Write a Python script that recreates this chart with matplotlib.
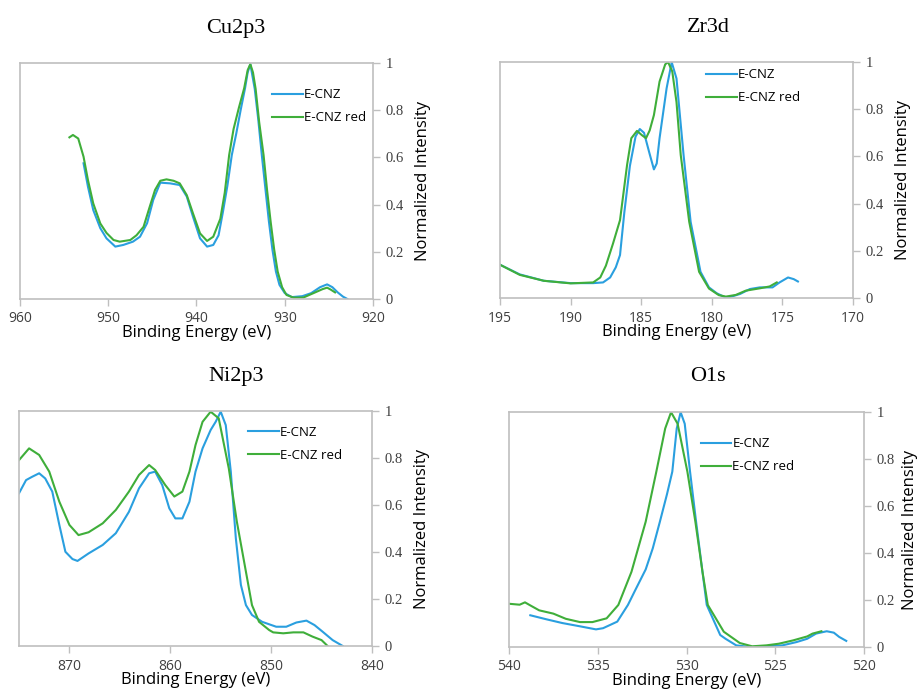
import matplotlib
matplotlib.use('Agg')
import matplotlib.pyplot as plt

# Cu2p3 (binding energy eV, normalized intensity)
cu_blue_x = [952.8, 952.3, 951.7, 950.9, 950.2, 949.2, 948.3, 947.2, 946.4, 945.6, 944.9, 944.1,
             943.0, 941.9, 941.1, 940.4, 939.6, 938.8, 938.1, 937.5, 937.0, 936.5, 936.0, 935.5,
             935.0, 934.5, 934.2, 933.9, 933.4, 933.0, 932.6, 932.2, 931.8, 931.4, 931.0, 930.6,
             930.0, 929.2, 928.0, 927.0, 926.0, 925.2, 924.6, 924.0, 923.4, 922.9]
cu_blue_y = [0.575, 0.476, 0.377, 0.30, 0.257, 0.222, 0.229, 0.243, 0.264, 0.321, 0.42, 0.493,
             0.49, 0.483, 0.434, 0.349, 0.257, 0.222, 0.229, 0.27, 0.37, 0.48, 0.61, 0.70,
             0.80, 0.893, 0.96, 0.995, 0.89, 0.76, 0.61, 0.47, 0.33, 0.21, 0.116, 0.06,
             0.025, 0.008, 0.012, 0.025, 0.05, 0.062, 0.05, 0.028, 0.01, 0.0]
cu_green_x = [954.4, 954.0, 953.4, 952.8, 952.3, 951.7, 950.9, 950.2, 949.4, 948.7, 947.5, 946.8,
              946.0, 945.3, 944.7, 944.1, 943.4, 942.6, 941.9, 941.1, 940.4, 939.6, 938.8, 938.1,
              937.3, 936.8, 936.3, 935.8, 935.2, 934.6, 934.2, 933.9, 933.6, 933.3, 932.9, 932.4,
              932.0, 931.6, 931.2, 930.8, 930.3, 929.8, 929.0, 927.9, 926.8, 925.7, 925.2, 924.8,
              924.3]
cu_green_y = [0.685, 0.695, 0.68, 0.603, 0.504, 0.405, 0.32, 0.28, 0.25, 0.243, 0.25, 0.27,
              0.306, 0.391, 0.462, 0.501, 0.507, 0.501, 0.49, 0.44, 0.363, 0.278, 0.246, 0.264,
              0.34, 0.45, 0.61, 0.72, 0.81, 0.893, 0.97, 0.995, 0.96, 0.89, 0.75, 0.61,
              0.46, 0.328, 0.21, 0.116, 0.05, 0.017, 0.006, 0.006, 0.024, 0.042, 0.048, 0.04,
              0.028]

# Zr3d
zr_blue_x = [195.0, 193.6, 191.9, 190.0, 188.4, 187.7, 187.2, 186.8, 186.5, 186.2, 185.8, 185.4,
             185.1, 184.8, 184.4, 184.1, 183.9, 183.7, 183.2, 182.84, 182.5, 182.0, 181.5, 180.8,
             180.2, 179.65, 178.95, 178.0, 177.3, 176.6, 175.7, 175.2, 174.6, 174.2, 173.9]
zr_blue_y = [0.141, 0.10, 0.073, 0.063, 0.063, 0.066, 0.087, 0.13, 0.182, 0.36, 0.56, 0.684,
             0.716, 0.70, 0.61, 0.545, 0.57, 0.677, 0.889, 0.999, 0.93, 0.606, 0.323, 0.111,
             0.045, 0.02, 0.0, 0.017, 0.038, 0.045, 0.045, 0.066, 0.087, 0.08, 0.07]
zr_green_x = [195.0, 193.6, 191.9, 190.0, 188.4, 187.9, 187.5, 187.0, 186.5, 186.0, 185.7, 185.3,
              184.95, 184.66, 184.4, 184.1, 183.7, 183.3, 183.1, 182.8, 182.5, 182.2, 181.6, 180.9,
              180.2, 179.5, 179.0, 178.3, 177.6, 176.6, 175.9, 175.4]
zr_green_y = [0.141, 0.098, 0.073, 0.062, 0.066, 0.087, 0.137, 0.23, 0.33, 0.564, 0.677, 0.708,
              0.69, 0.677, 0.71, 0.775, 0.917, 0.99, 1.0, 0.96, 0.83, 0.606, 0.323, 0.111,
              0.04, 0.012, 0.006, 0.013, 0.031, 0.041, 0.049, 0.066]

# Ni2p3
ni_blue_x = [875.0, 874.3, 873.7, 873.0, 872.4, 871.7, 871.0, 870.4, 869.7, 869.2, 868.1, 866.7,
             865.4, 864.1, 863.1, 862.1, 861.5, 860.8, 860.1, 859.5, 858.8, 858.1, 857.5, 856.8,
             856.0, 855.5, 855.0, 854.5, 854.0, 853.5, 853.0, 852.5, 851.9, 850.9, 849.5, 848.5,
             847.5, 846.5, 845.7, 844.9, 843.9, 842.9]
ni_blue_y = [0.65, 0.706, 0.72, 0.735, 0.713, 0.657, 0.515, 0.401, 0.37, 0.362, 0.394, 0.43,
             0.48, 0.571, 0.671, 0.735, 0.742, 0.685, 0.586, 0.543, 0.543, 0.614, 0.742, 0.841,
             0.919, 0.954, 0.997, 0.94, 0.742, 0.458, 0.26, 0.174, 0.132, 0.103, 0.082, 0.082,
             0.10, 0.108, 0.089, 0.061, 0.025, 0.0]
ni_green_x = [875.0, 874.0, 873.0, 872.0, 871.0, 870.0, 869.1, 868.1, 866.7, 865.4, 864.1, 863.1,
              862.1, 861.5, 860.5, 859.6, 858.8, 858.1, 857.5, 856.8, 856.0, 855.2, 854.2, 853.4,
              852.5, 851.9, 851.2, 850.2, 849.8, 848.8, 847.8, 846.8, 845.9, 845.0, 844.4]
ni_green_y = [0.791, 0.841, 0.813, 0.742, 0.614, 0.515, 0.472, 0.484, 0.522, 0.579, 0.657, 0.728,
              0.77, 0.749, 0.685, 0.636, 0.657, 0.742, 0.855, 0.954, 0.997, 0.969, 0.756, 0.529,
              0.316, 0.174, 0.103, 0.068, 0.058, 0.054, 0.058, 0.058, 0.04, 0.025, 0.0]

# O1s
o_blue_x = [538.8, 537.9, 537.0, 536.0, 535.1, 534.7, 533.9, 533.3, 532.9, 532.3, 531.9, 531.5,
            531.1, 530.8, 530.55, 530.33, 530.1, 529.8, 529.46, 529.1, 528.86, 528.1, 527.8, 527.2,
            526.4, 525.5, 524.6, 523.8, 523.2, 522.7, 522.1, 521.7, 521.4, 521.0]
o_blue_y = [0.135, 0.118, 0.102, 0.088, 0.075, 0.08, 0.108, 0.179, 0.24, 0.33, 0.42, 0.533,
            0.65, 0.746, 0.93, 0.999, 0.95, 0.746, 0.533, 0.32, 0.179, 0.051, 0.035, 0.007,
            0.0, 0.003, 0.007, 0.021, 0.035, 0.057, 0.067, 0.061, 0.043, 0.026]
o_green_x = [540.0, 539.4, 539.1, 538.8, 538.3, 537.5, 536.8, 536.0, 535.3, 534.5, 533.84, 533.1,
             532.3, 531.7, 531.2, 530.87, 530.5, 529.95, 529.5, 529.1, 528.8, 527.9, 527.0, 526.3,
             525.5, 524.8, 524.0, 523.2, 522.9, 522.4]
o_green_y = [0.184, 0.18, 0.19, 0.177, 0.156, 0.142, 0.12, 0.106, 0.106, 0.122, 0.179, 0.32,
             0.533, 0.746, 0.93, 0.999, 0.95, 0.746, 0.533, 0.32, 0.179, 0.065, 0.017, 0.003,
             0.007, 0.014, 0.028, 0.045, 0.057, 0.067]

BLUE = '#2a9fdf'
GREEN = '#3fae3a'
FRAME = '#bfbfbf'
SANS = 'Open Sans'
SERIF = 'Liberation Serif'

panels = [
    # title, blue, green, xlim, xticks, axes rect, title pos, legend anchor, ylabel pad
    ('Cu2p3', (cu_blue_x, cu_blue_y), (cu_green_x, cu_green_y), (960, 920), [960, 950, 940, 930, 920],
     [20/917, 1 - 299/691, 353/917, 236/691], (236/917, 1 - 28/691), (0.70, 0.915), 8),
    ('Zr3d', (zr_blue_x, zr_blue_y), (zr_green_x, zr_green_y), (195, 170), [195, 190, 185, 180, 175, 170],
     [500/917, 1 - 298/691, 353/917, 236/691], (708/917, 1 - 28/691), (0.57, 0.995), 8),
    ('Ni2p3', (ni_blue_x, ni_blue_y), (ni_green_x, ni_green_y), (875, 840), [870, 860, 850, 840],
     [19/917, 1 - 646/691, 353/917, 235/691], (236/917, 1 - 377/691), (0.635, 0.96), 8),
    ('O1s', (o_blue_x, o_blue_y), (o_green_x, o_green_y), (540, 520), [540, 535, 530, 525, 520],
     [509/917, 1 - 647/691, 355/917, 235/691], (708/917, 1 - 377/691), (0.525, 0.915), 5),
]

fig = plt.figure(figsize=(9.17, 6.91), dpi=100)

for title, blue, green, xlim, xticks, rect, tpos, lpos, ypad in panels:
    ax = fig.add_axes(rect)
    ax.plot(blue[0], blue[1], color=BLUE, lw=1.5, label='E-CNZ')
    ax.plot(green[0], green[1], color=GREEN, lw=1.5, label='E-CNZ red')
    ax.set_xlim(*xlim)
    ax.set_ylim(0, 1)
    ax.set_xticks(xticks)
    ax.set_yticks([0, 0.2, 0.4, 0.6, 0.8, 1])
    ax.set_yticklabels(['0', '0.2', '0.4', '0.6', '0.8', '1'], fontfamily=SERIF, fontsize=10.5)
    ax.yaxis.tick_right()
    ax.yaxis.set_label_position('right')
    for lab in ax.get_xticklabels():
        lab.set_fontfamily(SANS)
        lab.set_fontsize(10)
    ax.tick_params(axis='both', direction='out', length=5, width=1, color=FRAME,
                   labelcolor='#404040', pad=4)
    for s in ax.spines.values():
        s.set_color(FRAME)
        s.set_linewidth(1.2)
    ax.set_xlabel('Binding Energy (eV)', fontfamily=SANS, fontsize=12, labelpad=-1)
    ax.set_ylabel('Normalized Intensity', fontfamily=SANS, fontsize=12, labelpad=ypad)
    ax.legend(loc='upper left', bbox_to_anchor=lpos, frameon=False,
              prop={'family': SANS, 'size': 9.5}, handlelength=2.3, handletextpad=0.1,
              labelspacing=0.75, borderaxespad=0)
    fig.text(tpos[0], tpos[1], title, ha='center', va='center', fontfamily=SERIF, fontsize=16)

fig.savefig('out.png', dpi=100)
